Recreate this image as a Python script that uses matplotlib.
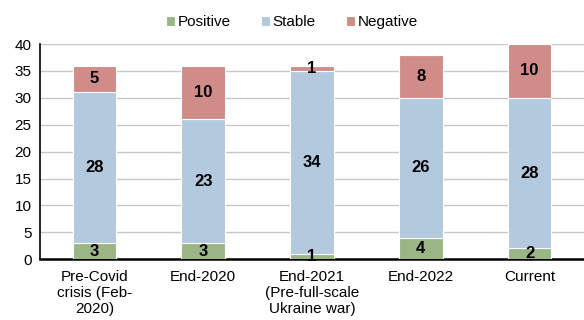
import matplotlib.pyplot as plt
import numpy as np

plt.rcParams['font.family'] = ['Liberation Sans', 'DejaVu Sans']

categories = ['Pre-Covid\ncrisis (Feb-\n2020)', 'End-2020',
              'End-2021\n(Pre-full-scale\nUkraine war)', 'End-2022', 'Current']
positive = [3, 3, 1, 4, 2]
stable = [28, 23, 34, 26, 28]
negative = [5, 10, 1, 8, 10]

colors = {'Positive': '#9bb584', 'Stable': '#b3c9dd', 'Negative': '#d08c88'}

fig = plt.figure(figsize=(5.84, 3.2), dpi=100)
ax = fig.add_axes([0.0685, 0.19, 0.9315, 0.6725])

x = np.arange(len(categories))
w = 0.4
pos = np.array(positive)
sta = np.array(stable)
neg = np.array(negative)

b1 = ax.bar(x, pos, w, color=colors['Positive'], edgecolor='white', linewidth=0.8, label='Positive', zorder=3)
b2 = ax.bar(x, sta, w, bottom=pos, color=colors['Stable'], edgecolor='white', linewidth=0.8, label='Stable', zorder=3)
b3 = ax.bar(x, neg, w, bottom=pos + sta, color=colors['Negative'], edgecolor='white', linewidth=0.8, label='Negative', zorder=3)

# value labels centred in each segment
for bars, vals, base in [(b1, pos, np.zeros_like(pos)), (b2, sta, pos), (b3, neg, pos + sta)]:
    for xi, v, b in zip(x, vals, base):
        ax.text(xi, b + v / 2, str(v), ha='center', va='center',
                fontsize=12, fontweight='bold', color='black', zorder=4)

ax.set_xlim(-0.5, len(categories) - 0.5)
ax.set_ylim(0, 40)
ax.set_yticks(range(0, 41, 5))
ax.set_xticks(x)
ax.set_xticklabels(categories, fontsize=11, linespacing=1.15)
ax.tick_params(axis='y', labelsize=11, length=0, pad=6)
ax.tick_params(axis='x', length=0, pad=8)
ax.yaxis.grid(True, color='#c8c8c8', linewidth=1, zorder=0)
ax.set_axisbelow(True)
for s in ['top', 'right']:
    ax.spines[s].set_visible(False)
ax.spines['left'].set_color('black')
ax.spines['left'].set_linewidth(1.2)
ax.spines['bottom'].set_color('black')
ax.spines['bottom'].set_linewidth(1.8)

fig.legend(handles=[b1, b2, b3], loc='upper center', bbox_to_anchor=(0.5, 0.995),
           ncol=3, frameon=False, fontsize=11, handlelength=0.6, handleheight=0.6,
           handletextpad=0.15, columnspacing=2.0)

fig.savefig('out.png', dpi=100)
